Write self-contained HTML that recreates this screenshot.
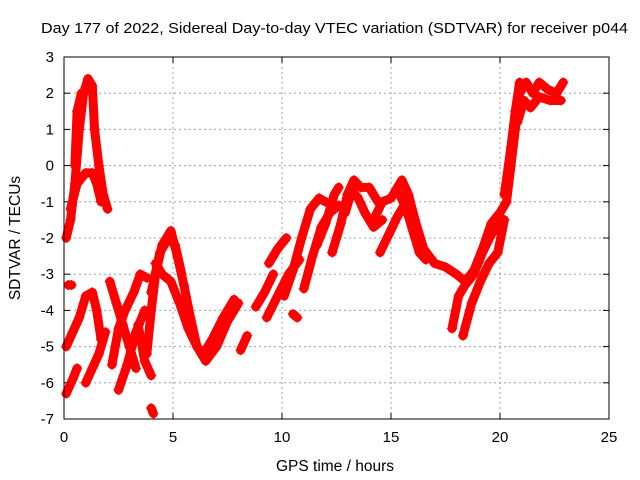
<!DOCTYPE html>
<html><head><meta charset="utf-8"><style>
body{margin:0;background:#fff}
svg{display:block;font-family:"Liberation Sans",sans-serif}
</style></head><body>
<svg id="chart" width="640" height="480">
<text x="41" y="33" font-size="15" textLength="587" lengthAdjust="spacingAndGlyphs">Day 177 of 2022, Sidereal Day-to-day VTEC variation (SDTVAR) for receiver p044</text>
<text x="335" y="471" font-size="15.5" text-anchor="middle">GPS time / hours</text>
<text transform="translate(20,238) rotate(-90)" font-size="15.5" text-anchor="middle">SDTVAR / TECUs</text>
<g id="grid"></g><g id="ticks"></g><g id="series"></g>
<rect x="64" y="57" width="545" height="362" fill="none" stroke="#000" stroke-width="1"/>
</svg>
<script>
const xTicks=[0,5,10,15,20,25];
const yTicks=[3,2,1,0,-1,-2,-3,-4,-5,-6,-7];
const tracks=[
[[0.1,-2.0],[0.3,-1.5],[0.5,-0.5],[0.7,1.0],[0.9,2.0],[1.1,2.4],[1.3,2.2],[1.4,1.0],[1.6,0],[1.8,-0.8],[2.0,-1.2]],
[[0.5,0],[0.6,1.5],[0.8,2.0]],
[[0.3,-1.2],[0.6,-0.5],[1.0,-0.2],[1.3,-0.2],[1.5,-0.5],[1.7,-1.0]],
[[0.1,-5.0],[0.4,-4.6],[0.7,-4.2],[1.0,-3.6],[1.3,-3.5],[1.5,-4.0],[1.7,-4.8]],
[[0.1,-6.3],[0.4,-5.9],[0.6,-5.6]],
[[1.0,-6.0],[1.3,-5.6],[1.6,-5.2],[1.9,-4.6]],
[[2.1,-3.2],[2.4,-3.8],[2.7,-4.4],[3.0,-5.0],[3.3,-5.6]],
[[2.2,-5.5],[2.5,-4.5],[2.8,-4.0],[3.2,-3.5],[3.5,-3.0],[3.8,-3.1]],
[[2.5,-6.2],[2.9,-5.5],[3.3,-4.6],[3.7,-4.0]],
[[3.4,-4.4],[3.7,-5.4],[4.0,-5.8]],
[[3.8,-5.2],[4.0,-4.0],[4.2,-3.0],[4.5,-2.2],[4.9,-1.8],[5.2,-2.5],[5.5,-3.3],[5.8,-4.2],[6.1,-5.0],[6.5,-5.4],[7.0,-5.0],[7.5,-4.3],[8.0,-3.8]],
[[4.2,-2.7],[4.5,-3.0],[4.9,-3.2],[5.3,-3.8],[5.7,-4.5],[6.1,-5.0],[6.4,-5.2],[6.8,-4.8],[7.3,-4.2],[7.8,-3.7]],
[[4.0,-3.5],[4.4,-2.4],[4.8,-2.0],[5.1,-2.2],[5.4,-3.0]],
[[4.0,-6.7],[4.1,-6.85]],
[[0.2,-3.3],[0.35,-3.3]],
[[8.1,-5.1],[8.4,-4.7]],
[[8.8,-3.9],[9.2,-3.5],[9.6,-3.0]],
[[9.4,-2.7],[9.8,-2.3],[10.2,-2.0]],
[[9.3,-4.2],[9.8,-3.6],[10.3,-3.0],[10.8,-2.6]],
[[10.1,-3.6],[10.5,-2.9],[10.9,-2.0],[11.3,-1.2],[11.7,-0.9],[12.0,-1.0]],
[[11.0,-3.4],[11.4,-2.5],[11.8,-1.7],[12.2,-1.3],[12.6,-1.1]],
[[11.6,-2.2],[12.0,-1.6],[12.4,-0.8],[12.6,-0.6]],
[[12.3,-2.4],[12.7,-1.6],[13.0,-0.8],[13.3,-0.4],[13.6,-0.6],[14.0,-0.6],[14.4,-1.0]],
[[12.9,-1.3],[13.2,-0.7],[13.5,-0.9],[13.8,-1.3],[14.2,-1.7],[14.6,-1.5]],
[[10.5,-4.1],[10.7,-4.2]],
[[14.2,-1.5],[14.6,-1.0],[15.0,-0.9],[15.3,-0.6],[15.5,-0.4],[15.8,-0.8],[16.1,-1.5],[16.5,-2.3],[17.0,-2.7],[17.5,-2.8],[18.0,-3.0],[18.4,-3.2],[18.8,-2.9],[19.2,-2.3],[19.6,-1.6],[20.0,-1.3],[20.3,-1.0],[20.5,0],[20.7,1.0],[20.9,2.0],[21.2,2.3],[21.5,2.0],[21.8,2.3],[22.2,2.1],[22.6,2.0],[22.9,2.3]],
[[15.4,-0.8],[15.7,-1.2],[16.0,-1.8],[16.3,-2.4],[16.6,-2.6]],
[[14.5,-2.4],[14.9,-1.9],[15.3,-1.4],[15.7,-1.0],[16.0,-1.3],[16.3,-2.0]],
[[17.8,-4.5],[18.1,-3.6],[18.4,-3.3],[18.8,-3.0],[19.2,-2.4],[19.6,-1.9],[20.0,-1.6]],
[[18.3,-4.7],[18.7,-3.8],[19.1,-3.2],[19.5,-2.7],[19.9,-2.4],[20.2,-1.5]],
[[20.2,-0.8],[20.5,0.5],[20.7,1.5],[20.9,2.3]],
[[20.8,1.2],[21.1,1.8],[21.4,1.6],[21.8,1.9],[22.3,1.8],[22.8,1.8]]
];
const X0=64,X1=609,Y0=57,Y1=419;
const sx=v=>X0+(v-0)/25*(X1-X0);
const sy=v=>Y0+(3-v)/10*(Y1-Y0);
const NS="http://www.w3.org/2000/svg";
const grid=document.getElementById('grid'),tk=document.getElementById('ticks'),ser=document.getElementById('series');
function mk(tag,attrs,parent){const e=document.createElementNS(NS,tag);for(const k in attrs)e.setAttribute(k,attrs[k]);parent.appendChild(e);return e;}
xTicks.forEach(t=>{
  const x=sx(t);
  if(t>0&&t<25){const g=mk('line',{x1:x,x2:x,y1:Y0,y2:Y1,stroke:'#a0a0a0','stroke-dasharray':'2,3'},grid);
  
  }
  mk('line',{x1:x,x2:x,y1:Y1,y2:Y1-6,stroke:'#000'},tk);
  mk('line',{x1:x,x2:x,y1:Y0,y2:Y0+6,stroke:'#000'},tk);
  const l=mk('text',{x:x,y:Y1+23,'font-size':15,'text-anchor':'middle'},tk);l.textContent=t;
  
  
});
yTicks.forEach(t=>{
  const y=sy(t);
  if(t<3&&t>-7){const g=mk('line',{x1:X0,x2:X1,y1:y,y2:y,stroke:'#a0a0a0','stroke-dasharray':'2,3'},grid);
  
  }
  mk('line',{x1:X0,x2:X0+6,y1:y,y2:y,stroke:'#000'},tk);
  mk('line',{x1:X1,x2:X1-6,y1:y,y2:y,stroke:'#000'},tk);
  const l=mk('text',{x:X0-10,y:y+5,'font-size':15,'text-anchor':'end'},tk);l.textContent=t;
  
  
});
tracks.forEach(tr=>{
  const pts=tr.map(p=>sx(p[0])+','+sy(p[1])).join(' ');
  const pl=mk('polyline',{points:pts,fill:'none',stroke:'#ff0000','stroke-width':9,'stroke-linejoin':'round','stroke-linecap':'round'},ser);
  
  
  tr.forEach(p=>{
    const x=sx(p[0]),y=sy(p[1]);
    const m=mk('path',{d:`M${x-5},${y}H${x+5}M${x},${y-5}V${y+5}`,stroke:'#ff0000','stroke-width':1.2},ser);
    
    
  });
});
</script>
</body></html>
